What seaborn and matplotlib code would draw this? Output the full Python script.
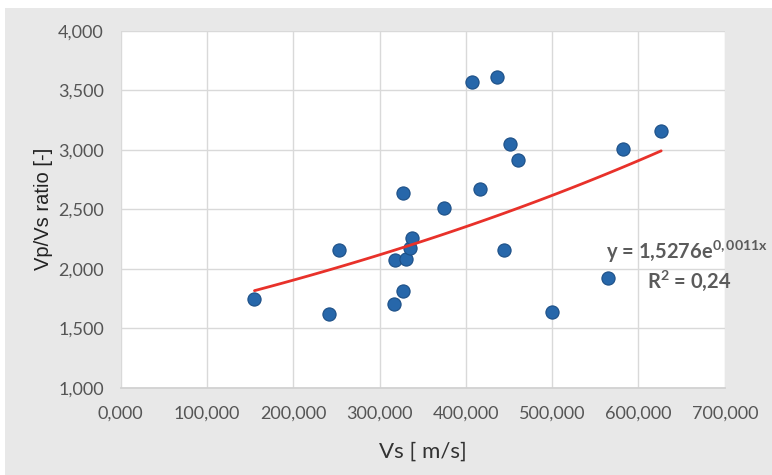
import numpy as np
import pandas as pd
import matplotlib
matplotlib.use("Agg")
import matplotlib.pyplot as plt
import seaborn as sns
from matplotlib.patches import Rectangle
from matplotlib.ticker import FuncFormatter

vs = [155.1, 241.9, 253.3, 316.6, 318.4, 326.9, 326.9, 330.9, 335.4, 337.7,
      374.2, 407.3, 435.8, 415.9, 443.8, 451.3, 460.4, 499.7, 564.8, 581.8, 626.3]
ratio = [1.745, 1.617, 2.160, 1.701, 2.076, 1.810, 2.634, 2.084, 2.171, 2.261,
         2.513, 3.566, 3.613, 2.667, 2.160, 3.045, 2.911, 1.639, 1.919, 3.008, 3.155]
x_ticks = [0, 100, 200, 300, 400, 500, 600, 700]
y_ticks = [1.0, 1.5, 2.0, 2.5, 3.0, 3.5, 4.0]
eq_text = "y = 1,5276e$^{0,0011x}$"
r2_text = "R$^{2}$ = 0,24"

df = pd.DataFrame({"Vs": vs, "ratio": ratio})

sns.set_theme(style="whitegrid")
narrow = "Lato"
plt.rcParams["font.family"] = ["Liberation Sans", "DejaVu Sans"]
plt.rcParams["mathtext.fontset"] = "custom"
plt.rcParams["mathtext.rm"] = "Lato:bold"
plt.rcParams["mathtext.it"] = "Lato:bold"
plt.rcParams["mathtext.bf"] = "Lato:bold"

fig = plt.figure(figsize=(7.72, 4.75), dpi=100, facecolor="white")
fig.patches.append(Rectangle((5 / 772, 0), 1, 1 - 8 / 475, transform=fig.transFigure,
                             facecolor="#e8e8e8", edgecolor="none", zorder=-10))
ax = fig.add_axes([120.6 / 772, 1 - 387.7 / 475, (724.8 - 120.6) / 772, (387.7 - 30.7) / 475])
ax.set_facecolor("white")

# exponential trend fit
b, loga = np.polyfit(df["Vs"], np.log(df["ratio"]), 1)
xs = np.linspace(min(vs), max(vs), 100)
trend = pd.DataFrame({"Vs": xs, "ratio": np.exp(loga) * np.exp(b * xs)})

sns.scatterplot(data=df, x="Vs", y="ratio", ax=ax, s=90, color="#2767aa",
                edgecolor="#1d4f86", linewidth=0.8, zorder=3)
sns.lineplot(data=trend, x="Vs", y="ratio", ax=ax, color="#e8312a", linewidth=2.0, zorder=4)

ax.set_xlim(0, 700)
ax.set_ylim(1, 4)
ax.set_xticks(x_ticks)
ax.set_yticks(y_ticks)
ax.xaxis.set_major_formatter(FuncFormatter(lambda v, p: f"{v:.3f}".replace(".", ",")))
ax.yaxis.set_major_formatter(FuncFormatter(lambda v, p: f"{v:.3f}".replace(".", ",")))
ax.grid(True, color="#d9d9d9", linewidth=1.0)
for s in ["top", "right", "left"]:
    ax.spines[s].set_visible(False)
ax.spines["bottom"].set_color("#d0d0d0")
ax.tick_params(axis="both", length=0, labelsize=13, labelcolor="#555555")
ax.tick_params(axis="x", pad=13)
ax.tick_params(axis="y", pad=12)
for lab in ax.get_xticklabels() + ax.get_yticklabels():
    lab.set_family(narrow)

ax.set_xlabel("Vs [ m/s]", fontsize=16, family=narrow, color="#333333", labelpad=14)
ax.set_ylabel("Vp/Vs ratio [-]", fontsize=14.5, color="#222222", labelpad=4)

fig.text(768 / 772, 1 - 252 / 475, eq_text, fontsize=14.5, fontweight="bold", family=narrow,
         color="#5b5b5b", va="center", ha="right")
fig.text(647 / 772, 1 - 281 / 475, r2_text, fontsize=14.5, fontweight="bold", family=narrow,
         color="#5b5b5b", va="center", ha="left")

fig.savefig("out.png", dpi=100, facecolor=fig.get_facecolor())
